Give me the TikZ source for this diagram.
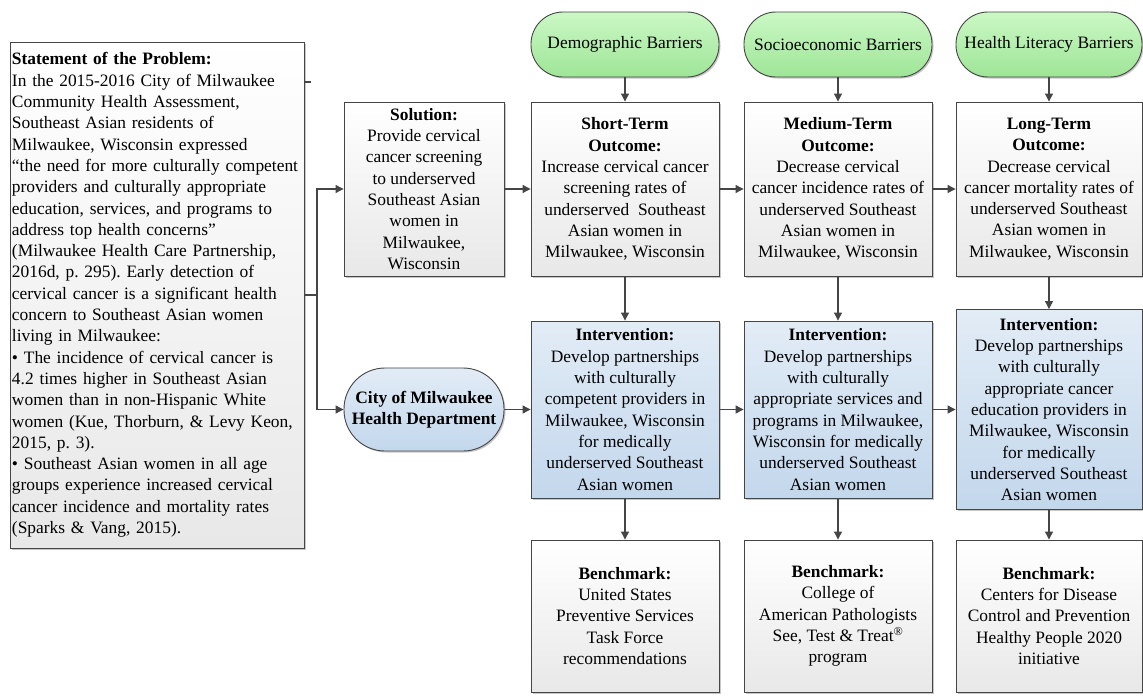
\documentclass[tikz,border=0pt]{standalone}
\usepackage{fontspec}
\setmainfont{Liberation Serif}
\usetikzlibrary{arrows.meta,shadows}
\definecolor{lineg}{HTML}{454545}
\definecolor{boxbot}{HTML}{E8E8E8}
\definecolor{bluetop}{HTML}{E2ECF6}
\definecolor{bluebot}{HTML}{C3D7EC}
\definecolor{greentop}{HTML}{CBF8C5}
\definecolor{greenbot}{HTML}{9EE597}
\newcommand{\diagfont}{\fontsize{17.4pt}{21.3pt}\selectfont\frenchspacing}
\tikzset{
  base/.style={draw=lineg, line width=0.9pt, font=\diagfont, align=center, inner sep=2pt,
    drop shadow={shadow xshift=1.5pt, shadow yshift=-1.5pt, fill=black, opacity=0.22}},
  graybox/.style={base, top color=white, bottom color=boxbot},
  bluebox/.style={base, top color=bluetop, bottom color=bluebot},
  greenpill/.style={base, top color=greentop, bottom color=greenbot, rounded corners=32pt},
  ln/.style={draw=lineg, line width=1.1pt},
  arr/.style={ln, -{Triangle[length=8pt,width=8pt]}},
}
\begin{document}
\begin{tikzpicture}[x=1pt,y=-1pt]
\useasboundingbox (0,0) rectangle (1143,696);

% left statement box
\node[graybox, align=left, text width=290pt, inner xsep=2pt, minimum height=506pt] (lb) at (157,295) {%
\textbf{Statement of the Problem:}\\
In the 2015-2016 City of Milwaukee\\
Community Health Assessment,\\
Southeast Asian residents of\\
Milwaukee, Wisconsin expressed\\
“the need for more culturally competent\\
providers and culturally appropriate\\
education, services, and programs to\\
address top health concerns”\\
(Milwaukee Health Care Partnership,\\
2016d, p. 295). Early detection of\\
cervical cancer is a significant health\\
concern to Southeast Asian women\\
living in Milwaukee:\\
• The incidence of cervical cancer is\\
4.2 times higher in Southeast Asian\\
women than in non-Hispanic White\\
women (Kue, Thorburn, \& Levy Keon,\\
2015, p. 3).\\
• Southeast Asian women in all age\\
groups experience increased cervical\\
cancer incidence and mortality rates\\
(Sparks \& Vang, 2015).};

% solution and city
\node[graybox, minimum width=160pt, minimum height=174pt] (sol) at (424,189) {%
\textbf{Solution:}\\ Provide cervical\\ cancer screening\\ to underserved\\ Southeast Asian\\ women in\\ Milwaukee,\\ Wisconsin};
\node[bluebox, minimum width=160pt, minimum height=83pt, rounded corners=41pt] (city) at (424,409.5) {%
\textbf{City of Milwaukee}\\ \textbf{Health Department}};

% barriers
\node[greenpill, minimum width=188pt, minimum height=65pt] (b1) at (625,44.5) {Demographic Barriers};
\node[greenpill, minimum width=188pt, minimum height=65pt] (b2) at (838,44.5) {Socioeconomic Barriers};
\node[greenpill, minimum width=186pt, minimum height=65pt] (b3) at (1049,44.5) {Health Literacy Barriers};

% outcomes
\node[graybox, minimum width=188pt, minimum height=174pt] (o1) at (625,189) {%
\textbf{Short-Term}\\ \textbf{Outcome:}\\ Increase cervical cancer\\ screening rates of\\ underserved\ \ Southeast\\ Asian women in\\ Milwaukee, Wisconsin};
\node[graybox, minimum width=188pt, minimum height=174pt] (o2) at (838,189) {%
\textbf{Medium-Term}\\ \textbf{Outcome:}\\ Decrease cervical\\ cancer incidence rates of\\ underserved Southeast\\ Asian women in\\ Milwaukee, Wisconsin};
\node[graybox, minimum width=186pt, minimum height=174pt] (o3) at (1049,189) {%
\textbf{Long-Term}\\ \textbf{Outcome:}\\ Decrease cervical\\ cancer mortality rates of\\ underserved Southeast\\ Asian women in\\ Milwaukee, Wisconsin};

% interventions
\node[bluebox, minimum width=188pt, minimum height=177pt] (i1) at (625,409.5) {%
\textbf{Intervention:}\\ Develop partnerships\\ with culturally\\ competent providers in\\ Milwaukee, Wisconsin\\ for medically\\ underserved Southeast\\ Asian women};
\node[bluebox, minimum width=188pt, minimum height=177pt] (i2) at (838,409.5) {%
\textbf{Intervention:}\\ Develop partnerships\\ with culturally\\ appropriate services and\\ programs in Milwaukee,\\ Wisconsin for medically\\ underserved Southeast\\ Asian women};
\node[bluebox, minimum width=186pt, minimum height=200pt] (i3) at (1049,409.5) {%
\textbf{Intervention:}\\ Develop partnerships\\ with culturally\\ appropriate cancer\\ education providers in\\ Milwaukee, Wisconsin\\ for medically\\ underserved Southeast\\ Asian women};

% benchmarks
\node[graybox, minimum width=188pt, minimum height=152pt] (k1) at (625,616) {%
\textbf{Benchmark:}\\ United States\\ Preventive Services\\ Task Force\\ recommendations};
\node[graybox, minimum width=188pt, minimum height=152pt] (k2) at (838,616) {%
\textbf{Benchmark:}\\ College of\\ American Pathologists\\ See, Test \& Treat\textsuperscript{®}\\ program};
\node[graybox, minimum width=186pt, minimum height=152pt] (k3) at (1049,616) {%
\textbf{Benchmark:}\\ Centers for Disease\\ Control and Prevention\\ Healthy People 2020\\ initiative};

% connectors from the statement box
\coordinate (stub) at (311,82);
\draw[ln] (lb.east |- stub) -- (stub);
\coordinate (j) at (317,295);
\draw[ln] (lb.east) -- (j);
\draw[arr] (j) |- (sol);
\draw[arr] (j) |- (city);

% horizontal arrows
\draw[arr] (sol) -- (o1);
\draw[arr] (o1) -- (o2);
\draw[arr] (o2) -- (o3);
\draw[arr] (city) -- (i1);
\draw[arr] (i1) -- (i2);
\draw[arr] (i2) -- (i3);

% vertical arrows
\foreach \c in {1,2,3} {
  \draw[arr] (b\c) -- (o\c);
  \draw[arr] (o\c) -- (i\c);
  \draw[arr] (i\c) -- (k\c);
}
\end{tikzpicture}
\end{document}
